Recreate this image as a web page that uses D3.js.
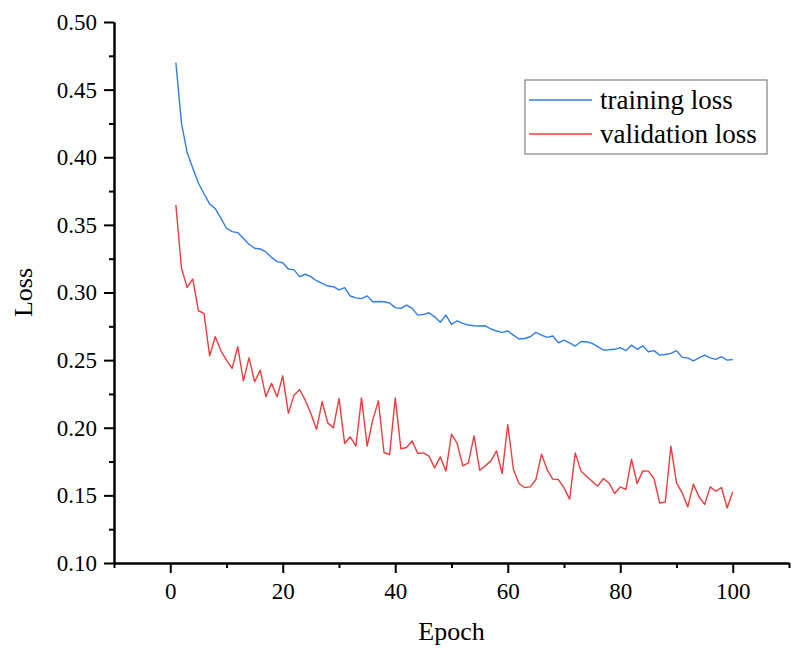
<!DOCTYPE html>
<html>
<head>
<meta charset="utf-8">
<script src="https://cdn.jsdelivr.net/npm/d3@7"></script>
<style>
  body { margin: 0; background: #fff; }
  svg { display: block; font-family: "Liberation Serif", "Times New Roman", serif; }
</style>
</head>
<body>
<div id="chart"></div>
<script>
// loss per epoch, epoch = index + 1
const trainLoss = [
  0.470, 0.425, 0.4035, 0.392, 0.381, 0.373, 0.3655, 0.362, 0.355, 0.3475,
  0.345, 0.3443, 0.340, 0.3357, 0.3327, 0.3322, 0.330, 0.326, 0.3228, 0.322,
  0.3174, 0.3167, 0.3117, 0.3135, 0.3117, 0.3087, 0.3068, 0.3048, 0.3043, 0.302,
  0.3036, 0.2974, 0.296, 0.2955, 0.2975, 0.2932, 0.2933, 0.2932, 0.2922, 0.2888,
  0.2883, 0.2907, 0.2883, 0.2833, 0.2838, 0.285, 0.282, 0.278, 0.2833, 0.2765,
  0.2791, 0.2772, 0.276, 0.2754, 0.2752, 0.2754, 0.273, 0.2715, 0.2705, 0.2715,
  0.2685, 0.2656, 0.266, 0.2673, 0.2705, 0.2685, 0.2668, 0.2678, 0.2628, 0.2648,
  0.2628, 0.2604, 0.2636, 0.2636, 0.2624, 0.26, 0.2575, 0.2577, 0.258, 0.2592,
  0.257, 0.2611, 0.258, 0.2606, 0.2562, 0.257, 0.2537, 0.2542, 0.255, 0.257,
  0.252, 0.2517, 0.2495, 0.2517, 0.2537, 0.2517, 0.2505, 0.2525, 0.25, 0.2505
];
const valLoss = [
  0.3648, 0.3179, 0.3038, 0.31, 0.2865, 0.2846, 0.2532, 0.2673, 0.2569, 0.25,
  0.2439, 0.2599, 0.2347, 0.2517, 0.234, 0.2426, 0.2229, 0.2328, 0.2229, 0.2384,
  0.2106, 0.2241, 0.2283, 0.2204, 0.2106, 0.1987, 0.2192, 0.2036, 0.1999, 0.2217,
  0.1884, 0.1933, 0.1864, 0.2221, 0.1864, 0.2056, 0.2199, 0.1817, 0.1802, 0.2221,
  0.1845, 0.1854, 0.1903, 0.181, 0.1814, 0.179, 0.1703, 0.1785, 0.168, 0.1953,
  0.1884, 0.1718, 0.174, 0.194, 0.1686, 0.1718, 0.1755, 0.1829, 0.1662, 0.2024,
  0.1693, 0.1588, 0.1558, 0.1563, 0.1617, 0.1805, 0.1691, 0.162, 0.1617, 0.1555,
  0.1472, 0.1814, 0.1681, 0.1642, 0.1605, 0.1568, 0.1625, 0.1592, 0.1514, 0.1563,
  0.1544, 0.1767, 0.1588, 0.1681, 0.1679, 0.1625, 0.1444, 0.1451, 0.1864, 0.1592,
  0.1519, 0.1415, 0.1583, 0.149, 0.1433, 0.1563, 0.1531, 0.1558, 0.1407, 0.1527
];
const seriesNames = ["training loss", "validation loss"];
const xTicks = [0, 20, 40, 60, 80, 100];
const xMinorTicks = [-10, 10, 30, 50, 70, 90, 110];
const yTicks = [0.10, 0.15, 0.20, 0.25, 0.30, 0.35, 0.40, 0.45, 0.50];
const yMinorTicks = [0.125, 0.175, 0.225, 0.275, 0.325, 0.375, 0.425, 0.475];

const COLORS = ["#2f7de8", "#f03c3c"];
const W = 795, H = 648;

const svg = d3.select("#chart").append("svg")
  .attr("width", W).attr("height", H);

const x = d3.scaleLinear().domain([-10, 110]).range([114, 789]);
const y = d3.scaleLinear().domain([0.1, 0.5]).range([563, 22]);

// lines
const line = d3.line()
  .x((d, i) => x(i + 1))
  .y(d => y(d));

[trainLoss, valLoss].forEach((s, k) => {
  svg.append("path")
    .datum(s)
    .attr("fill", "none")
    .attr("stroke", COLORS[k])
    .attr("stroke-width", 1.4)
    .attr("stroke-linejoin", "round")
    .attr("d", line);
});

// axes
function styleAxis(g) {
  g.select(".domain").attr("stroke", "#000").attr("stroke-width", 2);
  g.selectAll(".tick line").attr("stroke", "#000").attr("stroke-width", 2);
  g.selectAll("text").attr("fill", "#000").style("font-size", "23px")
    .style("font-family", "'Liberation Serif', 'Times New Roman', serif");
}

svg.append("g")
  .attr("transform", `translate(0,${y(0.1)})`)
  .call(d3.axisBottom(x).tickValues(xMinorTicks).tickSize(5).tickFormat("").tickSizeOuter(0))
  .call(styleAxis);
const xAxis = svg.append("g")
  .attr("transform", `translate(0,${y(0.1)})`)
  .call(d3.axisBottom(x).tickValues(xTicks).tickSize(10).tickSizeOuter(0))
  .call(styleAxis);
xAxis.selectAll("text").attr("y", 36).attr("dy", 0);

svg.append("g")
  .attr("transform", `translate(${x(-10)},0)`)
  .call(d3.axisLeft(y).tickValues(yMinorTicks).tickSize(5).tickFormat("").tickSizeOuter(0))
  .call(styleAxis);
svg.append("g")
  .attr("transform", `translate(${x(-10)},0)`)
  .call(d3.axisLeft(y).tickValues(yTicks).tickSize(10).tickPadding(7)
    .tickFormat(d3.format(".2f")).tickSizeOuter(0))
  .call(styleAxis);

// axis titles
svg.append("text")
  .attr("x", (x.range()[0] + x.range()[1]) / 2)
  .attr("y", 640)
  .attr("text-anchor", "middle")
  .style("font-size", "26px")
  .text("Epoch");

svg.append("text")
  .attr("transform", `translate(32,${(y.range()[0] + y.range()[1]) / 2}) rotate(-90)`)
  .attr("text-anchor", "middle")
  .style("font-size", "26px")
  .text("Loss");

// legend
const legend = svg.append("g");
legend.append("rect")
  .attr("x", 525).attr("y", 80)
  .attr("width", 242).attr("height", 74)
  .attr("fill", "#fff")
  .attr("stroke", "#808080")
  .attr("stroke-width", 1.2);

seriesNames.forEach((name, i) => {
  const row = legend.append("g").attr("transform", `translate(0,${100 + i * 34})`);
  row.append("line")
    .attr("x1", 529).attr("x2", 592)
    .attr("stroke", COLORS[i])
    .attr("stroke-width", 1.4);
  row.append("text")
    .attr("x", 600).attr("y", 9)
    .style("font-size", "27px")
    .text(name);
});
</script>
</body>
</html>
